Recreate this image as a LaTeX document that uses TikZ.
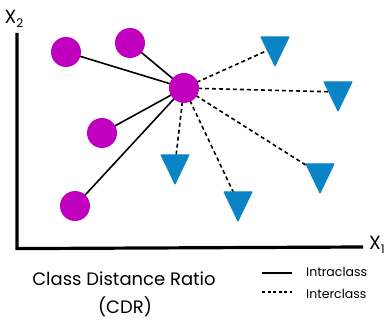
\documentclass[tikz,border=0pt]{standalone}
\usepackage{fontspec}
\setmainfont{Poppins}
\usetikzlibrary{backgrounds}
\definecolor{mag}{HTML}{C000BE}
\definecolor{tblue}{HTML}{0A84C6}
\begin{document}
\begin{tikzpicture}[x=1pt,y=-1pt,
  dot/.style={circle,fill=mag,minimum size=30pt,inner sep=0pt},
  tri/.style={fill=tblue,draw=tblue,line width=1pt,line join=round},
  intra/.style={line width=1.6pt,black},
  inter/.style={line width=1.6pt,black,dash pattern=on 4pt off 3pt},
  axis/.style={line width=3.2pt,black},
  lbl/.style={inner sep=0pt}]
\useasboundingbox (0,0) rectangle (388,320);
% axes
\coordinate (ytop) at (17,33);
\coordinate (orig) at (17,247);
\coordinate (xend) at (363,247);
\draw[axis] (ytop) -- ([yshift=-1.6pt]orig) -- (xend);
\node[lbl,font=\fontsize{19}{19}\selectfont] (x2) at (14,19) {X\raisebox{-0.35ex}{\fontsize{12}{12}\selectfont 2}};
\node[lbl,font=\fontsize{19}{19}\selectfont] (x1) at (377,245) {X\raisebox{-0.35ex}{\fontsize{12}{12}\selectfont 1}};
% points
\node[dot] (hub) at (184,88) {};
\node[dot] (ca) at (66,52) {};
\node[dot] (cb) at (130,43) {};
\node[dot] (cc) at (102,133) {};
\node[dot] (cd) at (75,206) {};
% triangles
\foreach \n/\x/\t in {ta/275/37, tb/338/82, tc/175/155, td/238/192, te/320/164}{
  \filldraw[tri] (\x-14,\t) -- (\x+14,\t) -- (\x,\t+29) -- cycle;
  \coordinate (\n) at (\x,\t+10);
}
\begin{scope}[on background layer]
\foreach \c in {ca,cb,cc,cd} \draw[intra] (hub.center) -- (\c.center);
\foreach \t in {ta,tb,tc,td,te} \draw[inter] (hub.center) -- (\t);
\end{scope}
% caption
\node[lbl,font=\fontsize{18}{18}\selectfont] (cap1) at (124,279) {Class Distance Ratio};
\node[lbl,font=\fontsize{18}{18}\selectfont] (cap2) at (125,307) {(CDR)};
% legend
\coordinate (l1a) at (262,273); \coordinate (l1b) at (292,273);
\coordinate (l2a) at (262,292); \coordinate (l2b) at (292,292);
\draw[line width=1.3pt] (l1a) -- (l1b);
\draw[line width=1.3pt,dash pattern=on 3pt off 2.5pt] (l2a) -- (l2b);
\node[lbl,anchor=west,font=\fontsize{12.5}{12.5}\selectfont] (lt1) at (306,272) {Intraclass};
\node[lbl,anchor=west,font=\fontsize{12.5}{12.5}\selectfont] (lt2) at (306,294) {Interclass};
\end{tikzpicture}
\end{document}
